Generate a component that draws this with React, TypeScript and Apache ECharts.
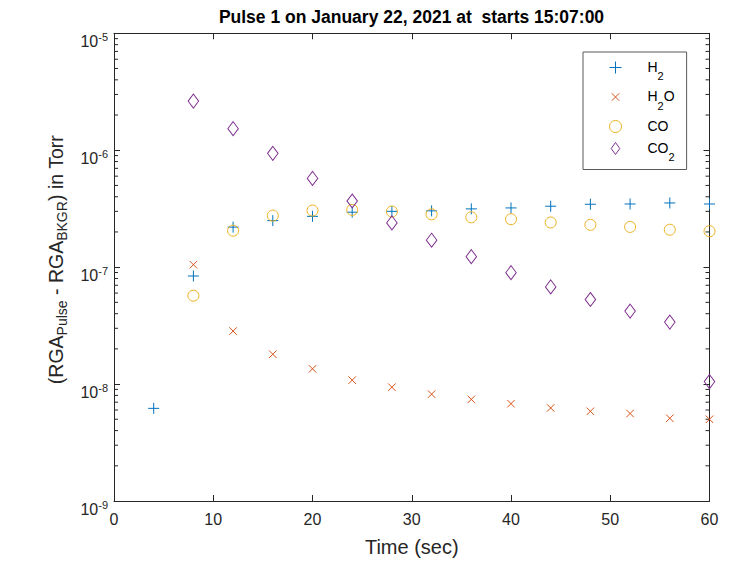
import React, { useEffect, useRef } from "react";
import * as echarts from "echarts";

const titleText = "Pulse 1 on January 22, 2021 at  starts 15:07:00";
const xAxisName = "Time (sec)";
const timeH2 = [4, 8, 12, 16, 20, 24, 28, 32, 36, 40, 44, 48, 52, 56, 60];
const timeOthers = [8, 12, 16, 20, 24, 28, 32, 36, 40, 44, 48, 52, 56, 60];
const h2Values = [6.2e-9, 8.4e-8, 2.2e-7, 2.5e-7, 2.72e-7, 2.95e-7, 3.0e-7, 3.03e-7, 3.15e-7, 3.21e-7, 3.32e-7, 3.45e-7, 3.47e-7, 3.54e-7, 3.47e-7];
const h2oValues = [1.05e-7, 2.84e-8, 1.8e-8, 1.35e-8, 1.08e-8, 9.4e-9, 8.2e-9, 7.4e-9, 6.8e-9, 6.25e-9, 5.85e-9, 5.6e-9, 5.1e-9, 5.0e-9];
const coValues = [5.7e-8, 2.05e-7, 2.76e-7, 3.05e-7, 3.09e-7, 2.99e-7, 2.83e-7, 2.67e-7, 2.57e-7, 2.41e-7, 2.3e-7, 2.21e-7, 2.09e-7, 2.03e-7];
const co2Values = [2.63e-6, 1.53e-6, 9.4e-7, 5.74e-7, 3.68e-7, 2.39e-7, 1.7e-7, 1.23e-7, 8.97e-8, 6.78e-8, 5.29e-8, 4.21e-8, 3.39e-8, 1.05e-8];
const seriesNames = ["H2", "H2O", "CO", "CO2"];
const legendLabels: Record<string, string> = {
  H2: "{b|H}{s|2}",
  H2O: "{b|H}{s|2}{b|O}",
  CO: "{b|CO}",
  CO2: "{b|CO}{s|2}",
};
const decades = [1e-9, 1e-8, 1e-7, 1e-6];
const minorSteps = [2, 3, 4, 5, 6, 7, 8, 9];

const FONT = "Liberation Sans, Arial, Helvetica, sans-serif";
const AXIS = "#262626";
const colors = ["#0072BD", "#D95319", "#EDB120", "#7E2F8E"];

export default function App() {
  const ref = useRef<HTMLDivElement>(null);
  useEffect(() => {
    document.body.style.margin = "0";
    const chart = echarts.init(ref.current!, undefined, { renderer: "svg" });
    const minorTicks: number[][] = [];
    decades.forEach((d) => minorSteps.forEach((m) => minorTicks.push([0, d * m])));
    const pair = (xs: number[], ys: number[]) => xs.map((x, i) => [x, ys[i]]);
    const symbols = [
      "path://M5,0L5,10M0,5L10,5",
      "path://M-3,-3M13,13M0,0L10,10M0,10L10,0",
      "circle",
      "path://M5,0L10,7L5,14L0,7Z",
    ];
    const sizes: any[] = [11, 12, 11, [10.5, 14]];
    const datas = [pair(timeH2, h2Values), pair(timeOthers, h2oValues), pair(timeOthers, coValues), pair(timeOthers, co2Values)];
    const scatter = seriesNames.map((n, i) => ({
      name: n,
      type: "scatter",
      data: datas[i],
      symbol: symbols[i],
      symbolSize: sizes[i],
      clip: false,
      itemStyle: { color: "transparent", borderColor: colors[i], borderWidth: 1, opacity: 1 },
      emphasis: { disabled: true },
    }));
    const option: any = {
      animation: false,
      backgroundColor: "#ffffff",
      textStyle: { fontFamily: FONT },
      grid: { left: 114, right: 21.5, top: 33.3, bottom: 58, containLabel: false },
      graphic: [
        {
          type: "text",
          x: 411.5,
          y: 17,
          style: {
            text: titleText,
            textAlign: "center",
            textVerticalAlign: "middle",
            font: "bold 17.5px " + FONT,
            fill: "#000000",
          },
        },
      ],
      legend: {
        orient: "vertical",
        left: 583,
        top: 52,
        padding: [7.5, 12, 7, 26],
        itemGap: 7.5,
        itemWidth: 12,
        itemHeight: 12,
        borderColor: "#595959",
        borderWidth: 1,
        backgroundColor: "#ffffff",
        selectedMode: false,
        data: seriesNames.map((n, i) => ({
          name: n,
          icon: symbols[i],
          itemStyle: { color: "transparent", borderColor: colors[i], borderWidth: 1 },
        })),
        formatter: (name: string) => legendLabels[name],
        textStyle: {
          fontSize: 14,
          padding: [0, 0, 0, 21],
          rich: {
            b: { fontSize: 14, lineHeight: 16, verticalAlign: "top", color: "#000", fontFamily: FONT },
            s: { fontSize: 11, lineHeight: 10, padding: [11, 0, 0, 0], verticalAlign: "top", color: "#000", fontFamily: FONT },
          },
        },
      },
      xAxis: [
        {
          type: "value",
          min: 0,
          max: 60,
          interval: 10,
          name: xAxisName,
          nameLocation: "middle",
          nameGap: 36,
          nameTextStyle: { fontSize: 20, color: AXIS, fontFamily: FONT },
          axisLine: { show: true, onZero: false, lineStyle: { color: AXIS, width: 1 } },
          axisTick: { show: true, inside: true, length: 6, lineStyle: { color: AXIS } },
          axisLabel: { fontSize: 16, color: AXIS, margin: 10, fontFamily: FONT },
          splitLine: { show: false },
        },
        {
          type: "value",
          position: "top",
          min: 0,
          max: 60,
          interval: 10,
          axisLine: { show: true, onZero: false, lineStyle: { color: AXIS, width: 1 } },
          axisTick: { show: true, inside: true, length: 6, lineStyle: { color: AXIS } },
          axisLabel: { show: false },
          splitLine: { show: false },
        },
      ],
      yAxis: [
        {
          type: "log",
          logBase: 10,
          min: 1e-9,
          max: 1e-5,
          splitNumber: 4,
          name: "(RGA{s|Pulse} - RGA{s|BKGR}) in Torr",
          nameLocation: "middle",
          nameRotate: 90,
          nameGap: 45,
          nameTextStyle: {
            rich: {
              s: { fontSize: 14, lineHeight: 14, padding: [12, 0, 0, 0], color: AXIS, fontFamily: FONT },
            },
            fontSize: 19.5,
            lineHeight: 26,
            padding: [0, 0, 0, 15],
            color: AXIS,
            fontFamily: FONT,
          },
          axisLine: { show: true, onZero: false, lineStyle: { color: AXIS, width: 1 } },
          axisTick: { show: true, inside: true, length: 6, lineStyle: { color: AXIS } },
          axisLabel: {
            margin: 6,
            fontSize: 16,
            color: AXIS,
            fontFamily: FONT,
            formatter: (v: number) => "{b|10}{s|" + Math.round(Math.log10(v)) + "}",
            rich: {
              b: { fontSize: 16, lineHeight: 16, padding: [8, 0, 0, 0], verticalAlign: "top", color: AXIS, fontFamily: FONT },
              s: { fontSize: 11, lineHeight: 11, padding: [6, 0, 0, 0], verticalAlign: "top", color: AXIS, fontFamily: FONT },
            },
          },
          splitLine: { show: false },
        },
        {
          type: "log",
          logBase: 10,
          position: "right",
          min: 1e-9,
          max: 1e-5,
          splitNumber: 4,
          axisLine: { show: true, onZero: false, lineStyle: { color: AXIS, width: 1 } },
          axisTick: { show: true, inside: true, length: 6, lineStyle: { color: AXIS } },
          axisLabel: { show: false },
          splitLine: { show: false },
        },
      ],
      series: [
        ...scatter,
        {
          type: "custom",
          name: "minorTicks",
          silent: true,
          clip: false,
          data: minorTicks,
          renderItem: (params: any, api: any) => {
            const y = api.coord([0, api.value(1)])[1];
            const cs = params.coordSys;
            return {
              type: "group",
              children: [
                { type: "line", shape: { x1: cs.x, y1: y, x2: cs.x + 4, y2: y }, style: { stroke: AXIS, lineWidth: 1 } },
                { type: "line", shape: { x1: cs.x + cs.width - 4, y1: y, x2: cs.x + cs.width, y2: y }, style: { stroke: AXIS, lineWidth: 1 } },
              ],
            };
          },
        },
      ],
    };
    chart.setOption(option);
    return () => chart.dispose();
  }, []);
  return <div ref={ref} style={{ width: 731, height: 562 }} />;
}
